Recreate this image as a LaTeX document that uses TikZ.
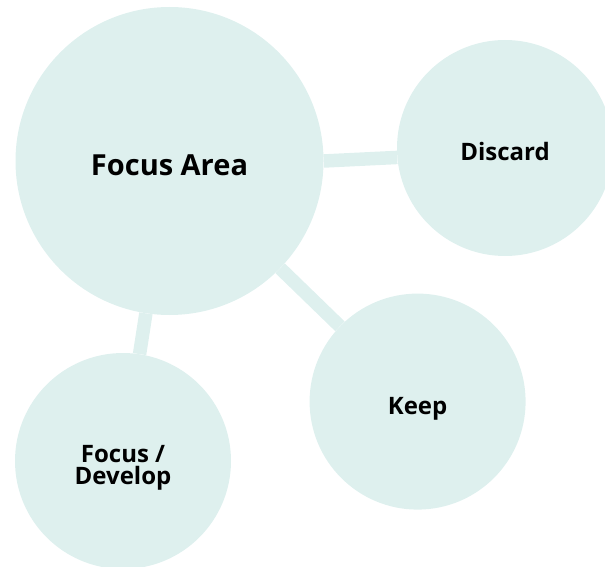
\documentclass[tikz,border=0pt]{standalone}
\usepackage{fontspec}
\setmainfont{Open Sans}
\usepackage{xcolor}
\usepackage{tikz}
\usetikzlibrary{positioning}
\definecolor{bubblefill}{RGB}{222,240,238}

\begin{document}
\begin{tikzpicture}[
  x=1pt, y=1pt,
  bubble/.style={circle, fill=bubblefill, inner sep=0pt, minimum size=216pt,
                 align=center, font=\fontsize{24}{22.5}\selectfont\bfseries},
  hub/.style={bubble, minimum size=308pt, font=\fontsize{29}{30}\selectfont\bfseries},
  link/.style={draw=bubblefill, line width=13.5pt}
]
\useasboundingbox (0,0) rectangle (605,566);
\clip (0,0) rectangle (605,566);

% Bubbles (text baseline set below the centre)
\node[hub]    (focus)   at (169.5,405) {\raisebox{-15pt}[0pt][0pt]{Focus Area}};
\node[bubble] (discard) at (505,418)   {\raisebox{-12.6pt}[0pt][0pt]{Discard}};
\node[bubble] (keep)    at (417.6,164.4) {\raisebox{-12.4pt}[0pt][0pt]{Keep}};
\node[bubble] (develop) at (123,105)   {\raisebox{-23.5pt}[0pt][0pt]{\begin{tabular}[b]{@{}c@{}}Focus /\\[-3pt]Develop\end{tabular}}};

% Links
\draw[link] (focus.0) -- (discard.185);
\draw[link] (focus) -- (keep);
\draw[link] (focus) -- (develop);
\end{tikzpicture}
\end{document}
